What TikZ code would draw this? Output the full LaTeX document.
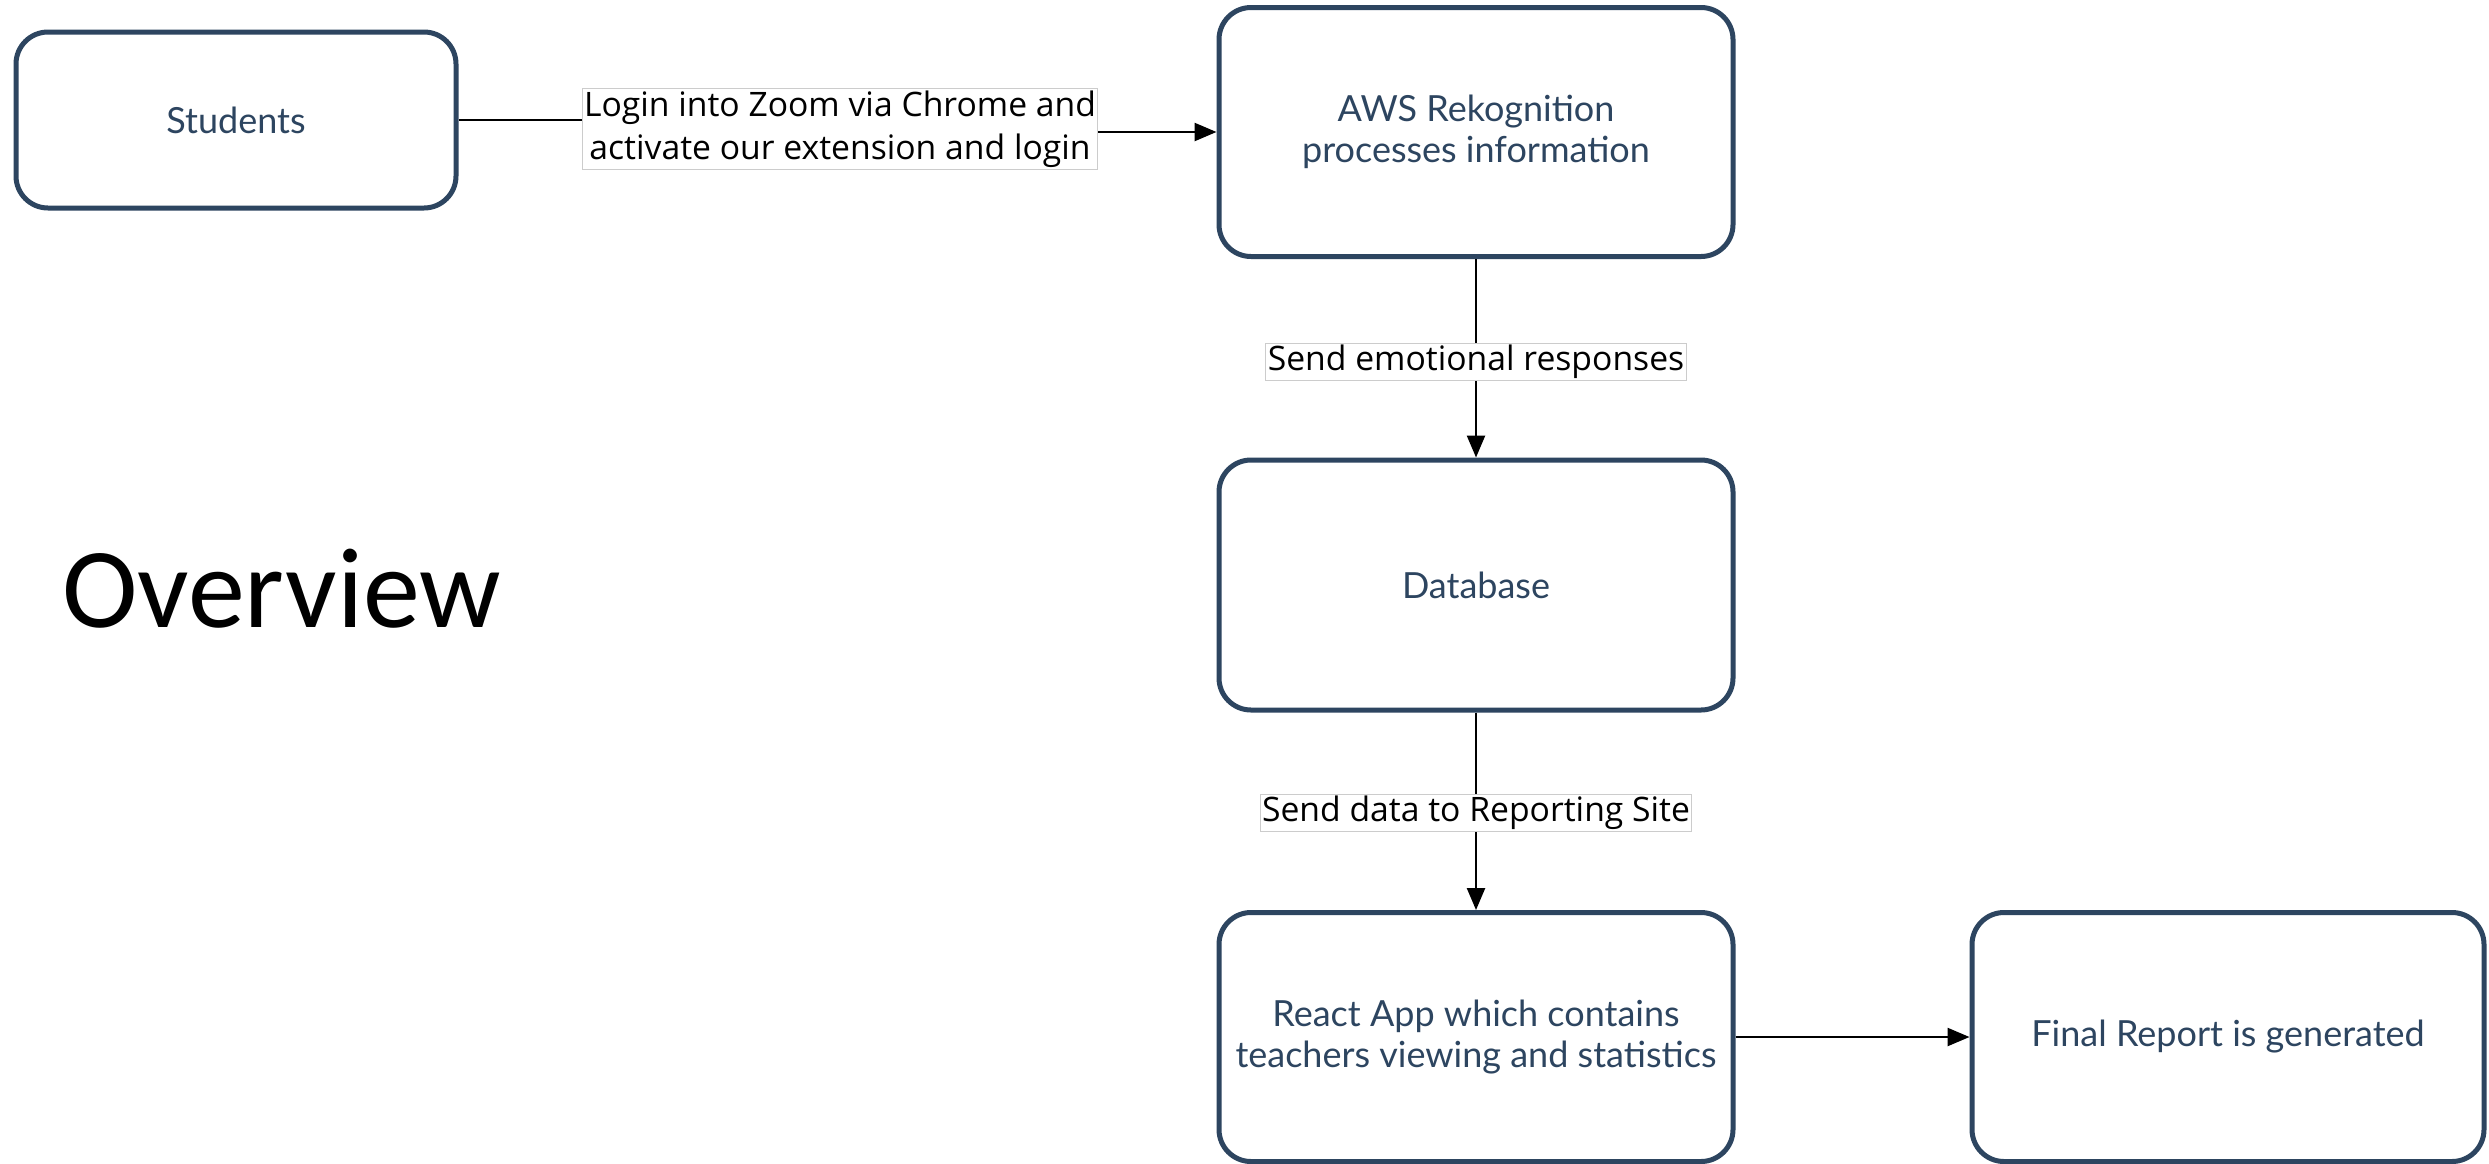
\documentclass[tikz,border=0pt]{standalone}
\usepackage{fontspec}
\setmainfont{Lato}
\newfontfamily\boxfont{Lato}
\newfontfamily\lblfont{Open Sans}
\newfontfamily\titlefont{Carlito}
\usetikzlibrary{arrows.meta}
\definecolor{navy}{HTML}{2D4560}
\tikzset{
  stepbox/.style={draw=navy, line width=5pt, rounded corners=32pt, fill=white,
    inner sep=0pt, align=center, text=navy, font=\boxfont\fontsize{36}{41}\selectfont},
  lbl/.style={fill=white, draw=black!20, line width=1pt, inner sep=2pt, align=center,
    font=\lblfont\fontsize{33.7}{43}\selectfont, text=black},
  conn/.style={draw=black, line width=2.5pt, -{Triangle[length=22pt,width=18pt]}},
}
\begin{document}
\begin{tikzpicture}[x=1pt,y=-1pt]
\useasboundingbox[fill=white] (0,0) rectangle (2489,1163);
\node[stepbox, minimum width=440pt, minimum height=176pt] (stu) at (236,120) {Students};
\node[stepbox, minimum width=514pt, minimum height=249pt] (aws) at (1476,132) {AWS Rekognition\\processes information};
\node[stepbox, minimum width=514pt, minimum height=250pt] (db) at (1476,585) {Database};
\node[stepbox, minimum width=514pt, minimum height=249pt] (react) at (1476,1037) {React App which contains\\teachers viewing and statistics};
\node[stepbox, minimum width=512pt, minimum height=249pt] (final) at (2228,1037) {Final Report is generated};
\node[font=\titlefont\fontsize{114}{120}\selectfont, anchor=west, inner sep=0pt] (title) at (62,589) {Overview};
\coordinate (j1) at (840,120);
\coordinate (j2) at (840,132);
\draw[conn] (stu.east) -- (j1) -- (j2) -- (aws.west);
\node[lbl] (l1) at (840,129) {Login into Zoom via Chrome and\\activate our extension and login};
\draw[conn] (aws.south) -- (db.north);
\node[lbl] (l2) at (1476,362) {Send emotional responses};
\draw[conn] (db.south) -- (react.north);
\node[lbl] (l3) at (1476,813) {Send data to Reporting Site};
\draw[conn] (react.east) -- (final.west);
\end{tikzpicture}
\end{document}
